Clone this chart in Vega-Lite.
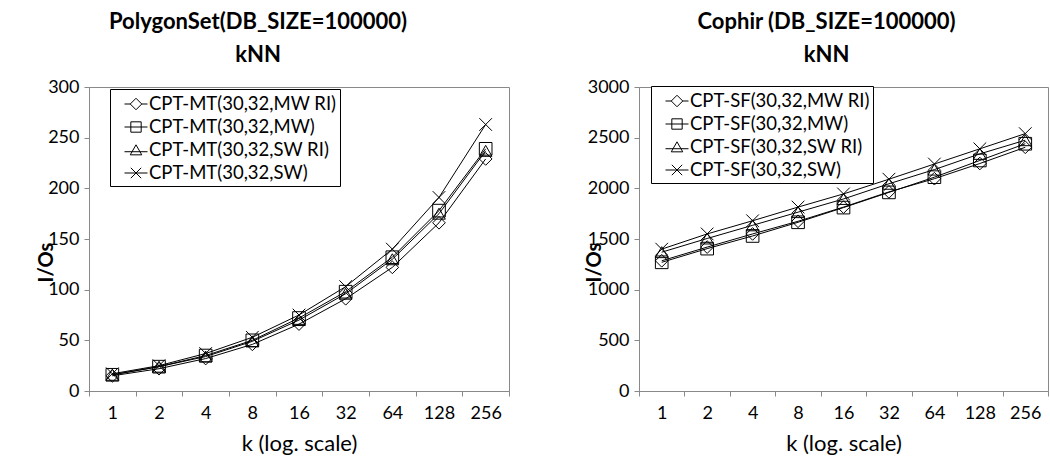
{
  "$schema": "https://vega.github.io/schema/vega-lite/v6.json",
  "padding": {"left": 35, "top": 10, "right": 0, "bottom": 0},
  "spacing": 73,
  "background": "white",
  "datasets": {
    "poly": [
      {"k": 1, "s": "CPT-MT(30,32,MW RI)", "v": 15}, {"k": 2, "s": "CPT-MT(30,32,MW RI)", "v": 22}, {"k": 4, "s": "CPT-MT(30,32,MW RI)", "v": 32}, {"k": 8, "s": "CPT-MT(30,32,MW RI)", "v": 46}, {"k": 16, "s": "CPT-MT(30,32,MW RI)", "v": 66}, {"k": 32, "s": "CPT-MT(30,32,MW RI)", "v": 91}, {"k": 64, "s": "CPT-MT(30,32,MW RI)", "v": 122}, {"k": 128, "s": "CPT-MT(30,32,MW RI)", "v": 166}, {"k": 256, "s": "CPT-MT(30,32,MW RI)", "v": 229},
      {"k": 1, "s": "CPT-MT(30,32,MW)", "v": 16}, {"k": 2, "s": "CPT-MT(30,32,MW)", "v": 24}, {"k": 4, "s": "CPT-MT(30,32,MW)", "v": 35}, {"k": 8, "s": "CPT-MT(30,32,MW)", "v": 50}, {"k": 16, "s": "CPT-MT(30,32,MW)", "v": 72}, {"k": 32, "s": "CPT-MT(30,32,MW)", "v": 98}, {"k": 64, "s": "CPT-MT(30,32,MW)", "v": 132}, {"k": 128, "s": "CPT-MT(30,32,MW)", "v": 178}, {"k": 256, "s": "CPT-MT(30,32,MW)", "v": 239},
      {"k": 1, "s": "CPT-MT(30,32,SW RI)", "v": 16}, {"k": 2, "s": "CPT-MT(30,32,SW RI)", "v": 24}, {"k": 4, "s": "CPT-MT(30,32,SW RI)", "v": 34}, {"k": 8, "s": "CPT-MT(30,32,SW RI)", "v": 49}, {"k": 16, "s": "CPT-MT(30,32,SW RI)", "v": 70}, {"k": 32, "s": "CPT-MT(30,32,SW RI)", "v": 96}, {"k": 64, "s": "CPT-MT(30,32,SW RI)", "v": 130}, {"k": 128, "s": "CPT-MT(30,32,SW RI)", "v": 175}, {"k": 256, "s": "CPT-MT(30,32,SW RI)", "v": 237},
      {"k": 1, "s": "CPT-MT(30,32,SW)", "v": 17}, {"k": 2, "s": "CPT-MT(30,32,SW)", "v": 25}, {"k": 4, "s": "CPT-MT(30,32,SW)", "v": 37}, {"k": 8, "s": "CPT-MT(30,32,SW)", "v": 53}, {"k": 16, "s": "CPT-MT(30,32,SW)", "v": 75}, {"k": 32, "s": "CPT-MT(30,32,SW)", "v": 103}, {"k": 64, "s": "CPT-MT(30,32,SW)", "v": 140}, {"k": 128, "s": "CPT-MT(30,32,SW)", "v": 191}, {"k": 256, "s": "CPT-MT(30,32,SW)", "v": 263}
    ],
    "cophir": [
      {"k": 1, "s": "CPT-SF(30,32,MW RI)", "v": 1285}, {"k": 2, "s": "CPT-SF(30,32,MW RI)", "v": 1420}, {"k": 4, "s": "CPT-SF(30,32,MW RI)", "v": 1550}, {"k": 8, "s": "CPT-SF(30,32,MW RI)", "v": 1675}, {"k": 16, "s": "CPT-SF(30,32,MW RI)", "v": 1815}, {"k": 32, "s": "CPT-SF(30,32,MW RI)", "v": 1965}, {"k": 64, "s": "CPT-SF(30,32,MW RI)", "v": 2095}, {"k": 128, "s": "CPT-SF(30,32,MW RI)", "v": 2245}, {"k": 256, "s": "CPT-SF(30,32,MW RI)", "v": 2405},
      {"k": 1, "s": "CPT-SF(30,32,MW)", "v": 1270}, {"k": 2, "s": "CPT-SF(30,32,MW)", "v": 1405}, {"k": 4, "s": "CPT-SF(30,32,MW)", "v": 1530}, {"k": 8, "s": "CPT-SF(30,32,MW)", "v": 1665}, {"k": 16, "s": "CPT-SF(30,32,MW)", "v": 1810}, {"k": 32, "s": "CPT-SF(30,32,MW)", "v": 1960}, {"k": 64, "s": "CPT-SF(30,32,MW)", "v": 2110}, {"k": 128, "s": "CPT-SF(30,32,MW)", "v": 2275}, {"k": 256, "s": "CPT-SF(30,32,MW)", "v": 2440},
      {"k": 1, "s": "CPT-SF(30,32,SW RI)", "v": 1370}, {"k": 2, "s": "CPT-SF(30,32,SW RI)", "v": 1505}, {"k": 4, "s": "CPT-SF(30,32,SW RI)", "v": 1635}, {"k": 8, "s": "CPT-SF(30,32,SW RI)", "v": 1765}, {"k": 16, "s": "CPT-SF(30,32,SW RI)", "v": 1895}, {"k": 32, "s": "CPT-SF(30,32,SW RI)", "v": 2045}, {"k": 64, "s": "CPT-SF(30,32,SW RI)", "v": 2185}, {"k": 128, "s": "CPT-SF(30,32,SW RI)", "v": 2340}, {"k": 256, "s": "CPT-SF(30,32,SW RI)", "v": 2475},
      {"k": 1, "s": "CPT-SF(30,32,SW)", "v": 1400}, {"k": 2, "s": "CPT-SF(30,32,SW)", "v": 1550}, {"k": 4, "s": "CPT-SF(30,32,SW)", "v": 1680}, {"k": 8, "s": "CPT-SF(30,32,SW)", "v": 1815}, {"k": 16, "s": "CPT-SF(30,32,SW)", "v": 1945}, {"k": 32, "s": "CPT-SF(30,32,SW)", "v": 2090}, {"k": 64, "s": "CPT-SF(30,32,SW)", "v": 2240}, {"k": 128, "s": "CPT-SF(30,32,SW)", "v": 2390}, {"k": 256, "s": "CPT-SF(30,32,SW)", "v": 2540}
    ]
  },
  "hconcat": [
    {
      "width": 420,
      "height": 304,
      "title": {"text": ["PolygonSet(DB_SIZE=100000)", "kNN"], "dx": -41},
      "data": {"name": "poly"},
      "encoding": {
        "x": {"field": "k", "type": "ordinal", "title": "k (log. scale)", "scale": {"type": "band", "paddingInner": 0, "paddingOuter": 0}},
        "y": {"field": "v", "type": "quantitative", "title": "I/Os", "scale": {"domain": [0, 300], "nice": false}, "axis": {"values": [0, 50, 100, 150, 200, 250, 300], "format": "d", "titleX": -43, "titleY": 175, "titleBaseline": "middle"}}
      },
      "layer": [
        {"mark": {"type": "line", "color": "black", "strokeWidth": 1}, "encoding": {"detail": {"field": "s"}}},
        {"mark": {"type": "point", "filled": false, "color": "black", "strokeWidth": 1, "size": 160, "opacity": 1},
         "encoding": {"shape": {"field": "s", "scale": {"domain": ["CPT-MT(30,32,MW RI)", "CPT-MT(30,32,MW)", "CPT-MT(30,32,SW RI)", "CPT-MT(30,32,SW)"], "range": ["diamond", "square", "triangle-up", "M-1,-1L1,1M-1,1L1,-1"]}, "legend": null}}},
        {"transform": [{"filter": "false"}],
         "mark": {"type": "point", "filled": false, "color": "black", "strokeWidth": 1, "opacity": 1},
         "encoding": {"shape": {"field": "s", "scale": {"domain": ["CPT-MT(30,32,MW RI)", "CPT-MT(30,32,MW)", "CPT-MT(30,32,SW RI)", "CPT-MT(30,32,SW)"], "range": ["M-1,0H-0.5M0.5,0H1M0,-0.5L0.5,0L0,0.5L-0.5,0Z", "M-1,0H1M-0.45,-0.45H0.45V0.45H-0.45Z", "M-1,0.15H1M0,-0.45L0.5,0.42H-0.5Z", "M-1,0H1M-0.45,-0.45L0.45,0.45M-0.45,0.45L0.45,-0.45"]},
           "legend": {"orient": "none", "legendX": 21, "legendY": 2, "labelExpr": "datum.label + '\u00a0\u00a0\u00a0\u00a0\u00a0\u00a0'"}}}}
      ],
      "resolve": {"scale": {"shape": "independent"}, "legend": {"shape": "independent"}}
    },
    {
      "width": 409,
      "height": 304,
      "title": {"text": ["Cophir (DB_SIZE=100000)", "kNN"], "dx": -17},
      "data": {"name": "cophir"},
      "encoding": {
        "x": {"field": "k", "type": "ordinal", "title": "k (log. scale)", "scale": {"type": "band", "paddingInner": 0, "paddingOuter": 0}},
        "y": {"field": "v", "type": "quantitative", "title": "I/Os", "scale": {"domain": [0, 3000], "nice": false}, "axis": {"values": [0, 500, 1000, 1500, 2000, 2500, 3000], "format": "d", "titleX": -45, "titleY": 175, "titleBaseline": "middle"}}
      },
      "layer": [
        {"mark": {"type": "line", "color": "black", "strokeWidth": 1}, "encoding": {"detail": {"field": "s"}}},
        {"mark": {"type": "point", "filled": false, "color": "black", "strokeWidth": 1, "size": 160, "opacity": 1},
         "encoding": {"shape": {"field": "s", "scale": {"domain": ["CPT-SF(30,32,MW RI)", "CPT-SF(30,32,MW)", "CPT-SF(30,32,SW RI)", "CPT-SF(30,32,SW)"], "range": ["diamond", "square", "triangle-up", "M-1,-1L1,1M-1,1L1,-1"]}, "legend": null}}},
        {"transform": [{"filter": "false"}],
         "mark": {"type": "point", "filled": false, "color": "black", "strokeWidth": 1, "opacity": 1},
         "encoding": {"shape": {"field": "s", "scale": {"domain": ["CPT-SF(30,32,MW RI)", "CPT-SF(30,32,MW)", "CPT-SF(30,32,SW RI)", "CPT-SF(30,32,SW)"], "range": ["M-1,0H-0.5M0.5,0H1M0,-0.5L0.5,0L0,0.5L-0.5,0Z", "M-1,0H1M-0.45,-0.45H0.45V0.45H-0.45Z", "M-1,0.15H1M0,-0.45L0.5,0.42H-0.5Z", "M-1,0H1M-0.45,-0.45L0.45,0.45M-0.45,0.45L0.45,-0.45"]},
           "legend": {"orient": "none", "legendX": 12, "legendY": -1, "labelExpr": "datum.label + '\u00a0\u00a0\u00a0\u00a0\u00a0\u00a0'"}}}}
      ],
      "resolve": {"scale": {"shape": "independent"}, "legend": {"shape": "independent"}}
    }
  ],
  "config": {
    "font": "Lato",
    "view": {"stroke": "#898989", "strokeWidth": 1},
    "title": {"font": "Lato", "fontSize": 22, "fontWeight": "bold", "color": "black", "lineHeight": 33, "offset": 11, "anchor": "middle"},
    "axis": {"grid": false, "domainColor": "#898989", "tickColor": "#898989", "tickSize": 5, "labelColor": "black", "titleColor": "black", "labelFont": "Lato", "titleFont": "Lato", "labelFontSize": 18},
    "axisX": {"tickBand": "extent", "labelAngle": 0, "labelPadding": 8, "titleFontSize": 22, "titleFontWeight": "normal", "titlePadding": 11},
    "axisY": {"titleFontSize": 20, "titleFontWeight": "bold", "labelPadding": 5},
    "legend": {"title": null, "strokeColor": "black", "fillColor": "white", "padding": 3, "symbolOffset": 11, "labelFont": "Lato", "labelFontSize": 18.5, "labelColor": "black", "labelLimit": 400, "symbolSize": 529, "symbolStrokeColor": "black", "symbolFillColor": "transparent", "symbolStrokeWidth": 1, "rowPadding": 1, "labelOffset": 1, "cornerRadius": 0}
  }
}
